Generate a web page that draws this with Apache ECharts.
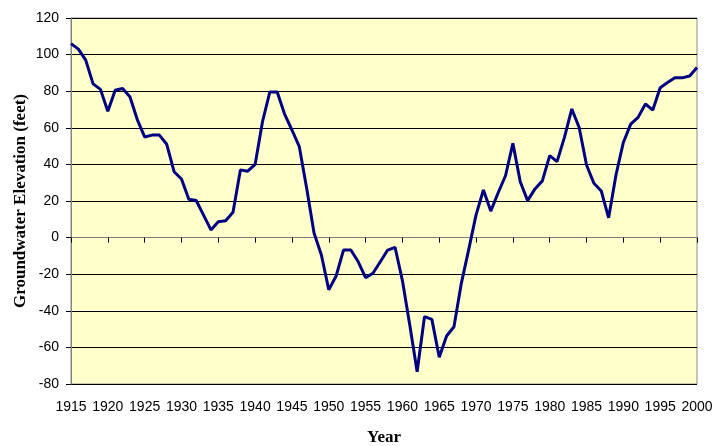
<!DOCTYPE html>
<html>
<head>
<meta charset="utf-8">
<script src="https://cdn.jsdelivr.net/npm/echarts@6/dist/echarts.min.js"></script>
<style>
  html, body { margin: 0; padding: 0; background: #fff; }
  #chart { width: 715px; height: 446px; }
</style>
</head>
<body>
<div id="chart"></div>
<script>
const years = []
for (let y = 1915; y <= 2000; y++) years.push(y)

const elevation = [
  106, 103, 97, 84, 81, 69, 80.5, 81.5, 77, 64.5,
  55, 56, 56, 51, 36, 32, 21, 20.3, 12.3, 4.2,
  8.7, 9.2, 13.8, 37, 36.3, 40, 63.3, 79.6, 79.6, 67.5,
  58.8, 49.7, 27, 2.5, -9.5, -28.5, -21, -6.8, -6.8, -13.2,
  -21.9, -19.5, -13.2, -6.8, -5.3, -23.5, -47.8, -73.3, -43.2, -44.7,
  -65.4, -53.8, -48.7, -25, -6.6, 12.4, 26, 14.5, 24.5, 33.8,
  51.5, 30.5, 20.2, 26.6, 31, 44.8, 41.5, 54.8, 70.3, 60.2,
  39.7, 29.7, 25.5, 10.8, 34.2, 52, 62, 65.7, 73, 69.7,
  81.9, 84.7, 87.4, 87.3, 88.3, 93
]

const yTicks = { min: -80, max: 120, step: 20 }
const xTicks = { min: 1915, max: 2000, step: 5 }

const myChart = echarts.init(document.getElementById('chart'))

const option = {
  animation: false,
  grid: {
    left: 71,
    right: 18,
    top: 18,
    bottom: 62,
    outerBoundsMode: 'none',
    containLabel: false,
    show: true,
    backgroundColor: '#ffffcc',
    borderColor: '#8c8c8c',
    borderWidth: 1
  },
  xAxis: {
    type: 'value',
    min: xTicks.min,
    max: xTicks.max,
    interval: xTicks.step,
    name: 'Year',
    nameLocation: 'middle',
    nameGap: 45,
    nameMoveOverlap: false,
    nameTextStyle: {
      fontFamily: 'Liberation Serif',
      fontWeight: 'bold',
      fontSize: 17,
      color: '#000'
    },
    axisLine: { lineStyle: { color: '#808080', width: 1 } },
    axisTick: { show: true, inside: false, length: 5, lineStyle: { color: '#000' } },
    axisLabel: {
      color: '#000',
      fontSize: 14,
      fontFamily: 'Liberation Sans Narrow, Liberation Sans, Arial',
      margin: 16,
      formatter: v => String(v)
    },
    splitLine: { show: false }
  },
  yAxis: {
    type: 'value',
    min: yTicks.min,
    max: yTicks.max,
    interval: yTicks.step,
    name: 'Groundwater Elevation (feet)',
    nameLocation: 'middle',
    nameGap: 42,
    nameMoveOverlap: false,
    nameRotate: 90,
    nameTextStyle: {
      fontFamily: 'Liberation Serif',
      fontWeight: 'bold',
      fontSize: 17,
      color: '#000'
    },
    axisLine: { show: true, lineStyle: { color: '#808080', width: 1 } },
    axisTick: { show: true, length: 5, lineStyle: { color: '#000' } },
    axisLabel: {
      color: '#000',
      fontSize: 14,
      fontFamily: 'Liberation Sans Narrow, Liberation Sans, Arial',
      margin: 12
    },
    splitLine: { show: true, lineStyle: { color: '#000', width: 1 } }
  },
  series: [
    {
      type: 'line',
      data: years.map((y, i) => [y, elevation[i]]),
      symbol: 'none',
      lineStyle: { color: '#000080', width: 3 },
      z: 5
    }
  ]
}

myChart.setOption(option)
</script>
</body>
</html>
